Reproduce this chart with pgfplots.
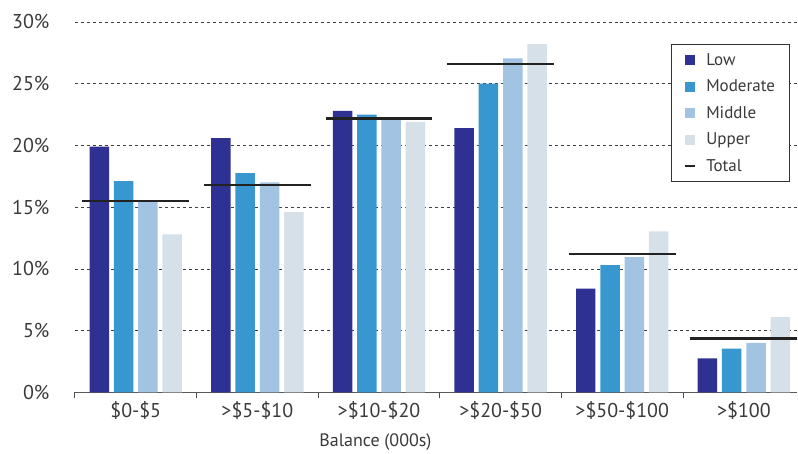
\documentclass[border=0pt]{standalone}
\usepackage{fontspec}
\setmainfont{PT Sans}
\usepackage{pgfplots}
\pgfplotsset{compat=1.18}
\definecolor{lowc}{HTML}{2E3192}
\definecolor{modc}{HTML}{3797CE}
\definecolor{midc}{HTML}{A2C3E1}
\definecolor{uppc}{HTML}{D5E0E8}
\definecolor{totc}{HTML}{222222}
\definecolor{txt}{HTML}{3A3A3A}
\begin{document}
\begin{tikzpicture}
\begin{axis}[
  scale only axis, width=723pt, height=370.7pt,
  xmin=-0.5, xmax=5.44, ymin=0, ymax=30,
  axis x line*=bottom, axis y line*=left,
  y axis line style={draw=none},
  x axis line style={draw=black!65, line width=1.3pt},
  xtick={0,1,2,3,4,5},
  xticklabels={\$0-\$5, >\$5-\$10, >\$10-\$20, >\$20-\$50, >\$50-\$100, >\$100},
  major x tick style={draw=none},
  minor xtick={-0.5,0.5,1.5,2.5,3.5,4.5},
  minor tick length=6pt, tick align=outside,
  minor x tick style={draw=black!70, line width=1pt},
  ytick={0,5,10,15,20,25,30},
  major tick length=0pt,
  ymajorgrids,
  grid style={draw=black!75, line width=0.7pt, dash pattern=on 3pt off 3pt},
  /pgf/number format/assume math mode=true,
  yticklabel={\pgfmathprintnumber{\tick}\%},
  yticklabel style={font=\fontsize{20}{24}\selectfont, text=txt, xshift=-22pt},
  xticklabel style={font=\fontsize{20}{24}\selectfont, text=txt, yshift=-6pt},
  xlabel={Balance (000s)},
  xlabel style={at={(axis description cs:0.416,0)}, anchor=north, yshift=-38pt, font=\fontsize{18}{22}\selectfont, text=txt},
  legend style={at={(0.989,0.94)}, anchor=north east, draw=black!80, line width=0.8pt,
    font=\fontsize{17}{20}\selectfont, text=txt, inner xsep=12pt, inner ysep=7pt, row sep=9pt,
    fill=white, /tikz/every odd column/.append style={column sep=8pt}},
  legend cell align=left,
]
\addplot[ybar, bar width=19.5pt, bar shift=-36.5pt, fill=lowc, draw=none,
  legend image code/.code={\fill[lowc] (0pt,-5pt) rectangle (10pt,5pt);}]
  coordinates {(0,19.9) (1,20.6) (2,22.8) (3,21.4) (4,8.4) (5,2.75)};
\addplot[ybar, bar width=19.5pt, bar shift=-12.2pt, fill=modc, draw=none,
  legend image code/.code={\fill[modc] (0pt,-5pt) rectangle (10pt,5pt);}]
  coordinates {(0,17.1) (1,17.75) (2,22.5) (3,25.0) (4,10.3) (5,3.55)};
\addplot[ybar, bar width=19.5pt, bar shift=12.2pt, fill=midc, draw=none,
  legend image code/.code={\fill[midc] (0pt,-5pt) rectangle (10pt,5pt);}]
  coordinates {(0,15.4) (1,17.0) (2,22.2) (3,27.05) (4,10.95) (5,4.0)};
\addplot[ybar, bar width=19.5pt, bar shift=36.5pt, fill=uppc, draw=none,
  legend image code/.code={\fill[uppc] (0pt,-5pt) rectangle (10pt,5pt);}]
  coordinates {(0,12.8) (1,14.6) (2,21.9) (3,28.2) (4,13.05) (5,6.1)};
\addplot[only marks, mark=-, mark size=53.5pt, mark options={line width=2.7pt, draw=totc},
  legend image code/.code={\draw[totc, line width=2.5pt] (0pt,0pt) -- (10pt,0pt);}]
  coordinates {(0,15.5) (1,16.8) (2,22.2) (3,26.6) (4,11.2) (5,4.35)};
\legend{Low, Moderate, Middle, Upper, Total}
\end{axis}
\path (current axis.south west) ++(-75pt,-58.3pt) rectangle ++(798pt,451pt);
\end{tikzpicture}
\end{document}
